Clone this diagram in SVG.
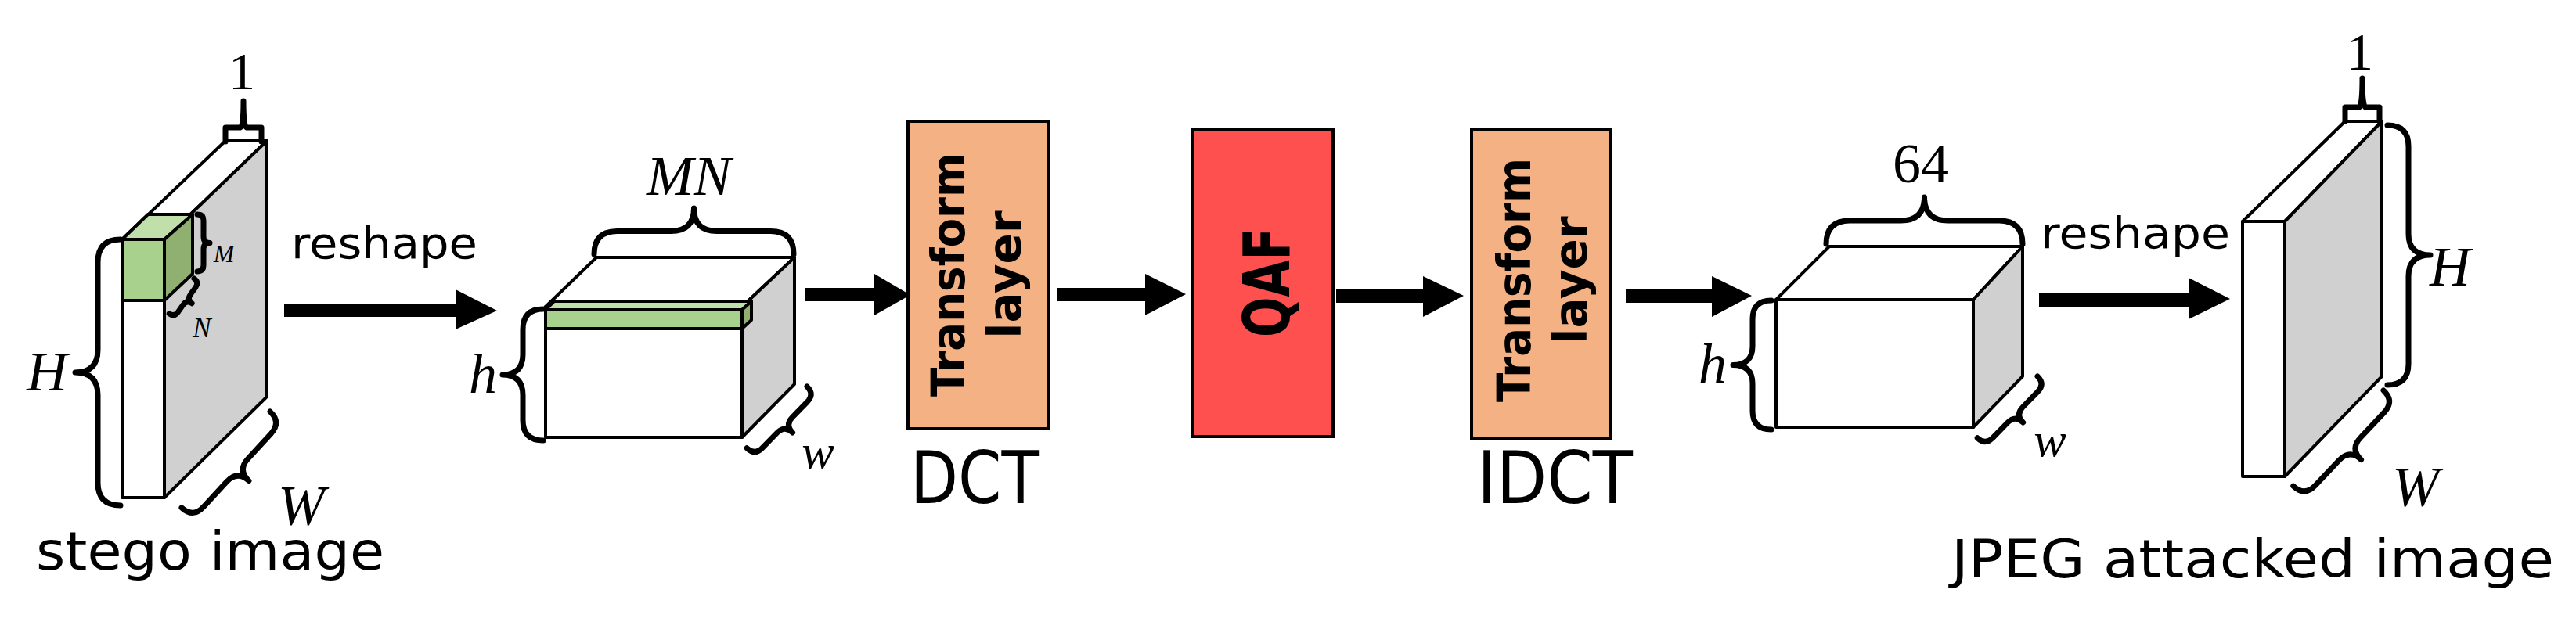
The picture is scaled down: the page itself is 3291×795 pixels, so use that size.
<svg xmlns="http://www.w3.org/2000/svg" width="3291" height="795" viewBox="0 0 3291 795">
<style>
.ln{stroke:#000;stroke-width:4;stroke-linejoin:round}
.w{fill:#fff}.g{fill:#d0d0d0}.gr{fill:#a9d18e}.gr2{fill:#c0dfaa}.gr3{fill:#8fb071}
.br{fill:none;stroke:#000;stroke-width:7;stroke-linejoin:round;stroke-linecap:round}
.m{font-family:"Liberation Serif",serif;font-style:italic;fill:#000}
.n{font-family:"Liberation Serif",serif;fill:#000}
.s{font-family:"DejaVu Sans",sans-serif;fill:#000}
.b{font-family:"DejaVu Sans",sans-serif;font-weight:bold;fill:#000}
.ar{fill:#000}
</style>
<g id="stego">
<polygon class="ln w" points="156,306 288,180 341,180 210,306"/>
<polygon class="ln g" points="210,306 341,180 341,507 210,636"/>
<rect class="ln w" x="156" y="306" width="54" height="330"/>
<polygon class="ln gr2" points="156,306 189,274 246,274 210,306"/>
<polygon class="ln gr3" points="210,306 246,274 246,350 210,384"/>
<rect class="ln gr" x="156" y="306" width="54" height="78"/>
<path class="br" d="M288,181 V163 H307 Q311,162 311,129 Q311,162 315,163 H334 V181"/>
<text class="n" x="309" y="114" font-size="68" text-anchor="middle">1</text>
<path class="br" transform="translate(252,274) rotate(90)" d="M0,0 Q0,-8 8,-8 H28.5 Q36.5,-8 36.5,-16 Q36.5,-8 44.5,-8 H65 Q73,-8 73,0"/>
<text class="m" x="286" y="335" font-size="32" text-anchor="middle">M</text>
<path class="br" transform="translate(248,356) rotate(125.4)" d="M0,0 Q0,-8 8,-8 H19.5 Q27.5,-8 27.5,-16 Q27.5,-8 35.5,-8 H47 Q55,-8 55,0"/>
<text class="m" x="258" y="431" font-size="35" text-anchor="middle">N</text>
<path class="br" transform="translate(154,646) rotate(-90)" d="M0,0 Q0,-29 29,-29 H141 Q170,-29 170,-58 Q170,-29 199,-29 H311 Q340,-29 340,0"/>
<text class="m" x="60" y="499" font-size="72" text-anchor="middle">H</text>
<path class="br" transform="translate(345,526) rotate(132.6)" d="M0,0 Q0,-20 20,-20 H63.5 Q83.5,-20 83.5,-40 Q83.5,-20 103.5,-20 H147 Q167,-20 167,0"/>
<text class="m" x="385" y="670" font-size="72" text-anchor="middle">W</text>
<text class="s" x="46" y="728" font-size="68" textLength="445" lengthAdjust="spacingAndGlyphs">stego image</text>
</g>
<g id="reshape1">
<text class="s" x="372" y="330" font-size="55" textLength="238" lengthAdjust="spacingAndGlyphs">reshape</text>
</g>
<g id="cube1">
<polygon class="ln w" points="697,392 762,329 1015,329 948,392"/>
<polygon class="ln g" points="948,392 1015,329 1015,491 948,559"/>
<rect class="ln w" x="697" y="392" width="251" height="167"/>
<polygon class="ln gr2" points="697,396 708,385 960,385 948,396"/>
<polygon class="ln gr3" points="948,396 960,385 960,409 948,420"/>
<rect class="ln gr" x="697" y="396" width="251" height="24"/>
<path class="br" transform="translate(759,325)" d="M0,0 Q0,-29.5 29.5,-29.5 H98 Q127.5,-29.5 127.5,-59 Q127.5,-29.5 157,-29.5 H225.5 Q255,-29.5 255,0"/>
<text class="m" x="880" y="249" font-size="72" text-anchor="middle">MN</text>
<path class="br" transform="translate(694,563) rotate(-90)" d="M0,0 Q0,-26 26,-26 H58 Q84,-26 84,-52 Q84,-26 110,-26 H142 Q168,-26 168,0"/>
<text class="m" x="617" y="502" font-size="72" text-anchor="middle">h</text>
<path class="br" transform="translate(1031,494) rotate(134.3)" d="M0,0 Q0,-14 14,-14 H41 Q55,-14 55,-28 Q55,-14 69,-14 H96 Q110,-14 110,0"/>
<text class="m" x="1045" y="598" font-size="62" text-anchor="middle">w</text>
</g>
<g id="dct">
<rect x="1160" y="155" width="179" height="393" fill="#f4b183" stroke="#000" stroke-width="4"/>
<text class="b" transform="translate(1232,351) rotate(-90)" font-size="58" text-anchor="middle" textLength="312" lengthAdjust="spacingAndGlyphs">Transform</text>
<text class="b" transform="translate(1304,351) rotate(-90)" font-size="58" text-anchor="middle">layer</text>
<text class="s" x="1163" y="643" font-size="92" textLength="165" lengthAdjust="spacingAndGlyphs">DCT</text>
</g>
<g id="qaf">
<rect x="1524" y="165" width="179" height="393" fill="#ff5050" stroke="#000" stroke-width="4"/>
<text class="b" transform="translate(1647,361) rotate(-90)" font-size="82" text-anchor="middle" textLength="140" lengthAdjust="spacingAndGlyphs">QAF</text>
</g>
<g id="idct">
<rect x="1880" y="166" width="178" height="394" fill="#f4b183" stroke="#000" stroke-width="4"/>
<text class="b" transform="translate(1955,358) rotate(-90)" font-size="58" text-anchor="middle" textLength="312" lengthAdjust="spacingAndGlyphs">Transform</text>
<text class="b" transform="translate(2027,358) rotate(-90)" font-size="58" text-anchor="middle">layer</text>
<text class="s" x="1887" y="643" font-size="92" textLength="199" lengthAdjust="spacingAndGlyphs">IDCT</text>
</g>
<g id="cube2">
<polygon class="ln w" points="2269,383 2337,315 2584,315 2521,383"/>
<polygon class="ln g" points="2521,383 2584,315 2584,481 2521,546"/>
<rect class="ln w" x="2269" y="383" width="252" height="163"/>
<path class="br" transform="translate(2333,312)" d="M0,0 Q0,-30 30,-30 H95.5 Q125.5,-30 125.5,-60 Q125.5,-30 155.5,-30 H221 Q251,-30 251,0"/>
<text class="n" x="2454" y="233" font-size="72" text-anchor="middle">64</text>
<path class="br" transform="translate(2263,549) rotate(-90)" d="M0,0 Q0,-24 24,-24 H58.5 Q82.5,-24 82.5,-49 Q82.5,-24 106.5,-24 H141 Q165,-24 165,0"/>
<text class="m" x="2188" y="489" font-size="72" text-anchor="middle">h</text>
<path class="br" transform="translate(2603,481) rotate(134.3)" d="M0,0 Q0,-14 14,-14 H41 Q55,-14 55,-28 Q55,-14 69,-14 H96 Q110,-14 110,0"/>
<text class="m" x="2619" y="583" font-size="62" text-anchor="middle">w</text>
</g>
<g id="reshape2">
<text class="s" x="2607" y="317" font-size="55" textLength="242" lengthAdjust="spacingAndGlyphs">reshape</text>
</g>
<g id="jpeg">
<polygon class="ln w" points="2865,283 2996,155 3043,155 2919,283"/>
<polygon class="ln g" points="2919,283 3043,155 3043,481 2919,609"/>
<rect class="ln w" x="2865" y="283" width="54" height="326"/>
<path class="br" d="M2996,155 V137 H3014 Q3018,135 3018,100 Q3018,135 3022,137 H3040 V155"/>
<text class="n" x="3015" y="89" font-size="68" text-anchor="middle">1</text>
<path class="br" transform="translate(3050,160) rotate(90)" d="M0,0 Q0,-27 27,-27 H139 Q166,-27 166,-55 Q166,-27 193,-27 H305 Q332,-27 332,0"/>
<text class="m" x="3130" y="365" font-size="72" text-anchor="middle">H</text>
<path class="br" transform="translate(3045,499) rotate(133.3)" d="M0,0 Q0,-20 20,-20 H64 Q84,-20 84,-40 Q84,-20 104,-20 H148 Q168,-20 168,0"/>
<text class="m" x="3086" y="646" font-size="72" text-anchor="middle">W</text>
<text class="s" x="2493" y="738" font-size="68" textLength="770" lengthAdjust="spacingAndGlyphs">JPEG attacked image</text>
</g>
<g id="connectors">
<polygon class="ar" points="363,388 582,388 582,370 635,397 582,421 582,405 363,405"/>
<polygon class="ar" points="1029,368 1117,368 1117,350 1163,377 1117,403 1117,385 1029,385"/>
<polygon class="ar" points="1350,368 1463,368 1463,350 1515,376 1463,403 1463,385 1350,385"/>
<polygon class="ar" points="1707,370 1818,370 1818,353 1870,378 1818,405 1818,387 1707,387"/>
<polygon class="ar" points="2077,370 2187,370 2187,353 2238,378 2187,405 2187,387 2077,387"/>
<polygon class="ar" points="2605,374 2796,374 2796,355 2849,382 2796,408 2796,392 2605,392"/>
</g>
</svg>
